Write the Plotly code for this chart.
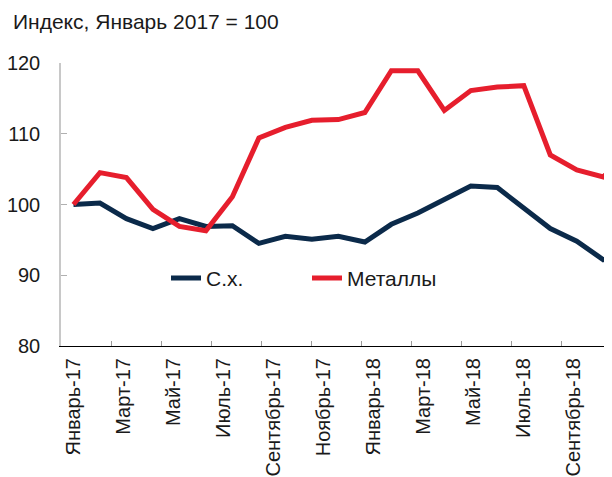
import plotly.graph_objects as go

title_text = "Индекс, Январь 2017 = 100"

data_months = ["Январь-17", "Февраль-17", "Март-17", "Апрель-17", "Май-17", "Июнь-17",
               "Июль-17", "Август-17", "Сентябрь-17", "Октябрь-17", "Ноябрь-17", "Декабрь-17",
               "Январь-18", "Февраль-18", "Март-18", "Апрель-18", "Май-18", "Июнь-18",
               "Июль-18", "Август-18", "Сентябрь-18", "Октябрь-18"]

agri = [100.0, 100.2, 98.0, 96.6, 98.0, 96.9, 97.0, 94.5, 95.5, 95.1, 95.5, 94.7,
        97.2, 98.8, 100.7, 102.6, 102.4, 99.5, 96.6, 94.8, 92.2, 93.3]

metals = [100.0, 104.5, 103.8, 99.3, 96.9, 96.3, 101.1, 109.4, 110.9, 111.9, 112.0, 113.0,
          118.9, 118.9, 113.3, 116.1, 116.6, 116.8, 107.0, 104.9, 103.9, 107.5]

axis_labels = ["Январь-17", "Март-17", "Май-17", "Июль-17", "Сентябрь-17", "Ноябрь-17",
               "Январь-18", "Март-18", "Май-18", "Июль-18", "Сентябрь-18"]

y_ticks = [80, 90, 100, 110, 120]

series_names = ["С.х.", "Металлы"]
colors = ["#0B2A4A", "#E61E2D"]

FONT = "Liberation Sans, Arial, sans-serif"
idx = list(range(len(data_months)))

fig = go.Figure()
fig.add_trace(go.Scatter(x=idx, y=agri, mode="lines", name=series_names[0],
                         line=dict(color=colors[0], width=5), text=data_months,
                         hovertemplate="%{text}: %{y}<extra></extra>"))
fig.add_trace(go.Scatter(x=idx, y=metals, mode="lines", name=series_names[1],
                         line=dict(color=colors[1], width=5), text=data_months,
                         hovertemplate="%{text}: %{y}<extra></extra>"))
# helper trace to bind the label axis
fig.add_trace(go.Scatter(x=[], y=[], xaxis="x2", showlegend=False, hoverinfo="skip"))

label_pos = [-0.5 + 2 * k for k in range(len(axis_labels))]

fig.update_layout(
    width=612, height=477,
    margin=dict(l=53, r=8, t=55, b=139, autoexpand=False),
    paper_bgcolor="white", plot_bgcolor="white",
    font=dict(family=FONT, size=20, color="#1a1a1a"),
    title=dict(text=title_text, x=5 / 612, xref="container", xanchor="left",
               y=1 - 14 / 477, yref="container", yanchor="middle",
               font=dict(family=FONT, size=21, color="#1a1a1a")),
    showlegend=True,
    legend=dict(orientation="h", x=105 / 551, xanchor="left",
                y=(345.7 - 278) / 283, yanchor="middle",
                bgcolor="rgba(0,0,0,0)", entrywidth=96,
                font=dict(family=FONT, size=21, color="#1a1a1a")),
    xaxis=dict(range=[-0.47, 20.33], showgrid=False, zeroline=False, automargin=False,
               showticklabels=False, ticks="", showline=True,
               linecolor="#000000", linewidth=1),
    xaxis2=dict(overlaying="x", anchor="y", side="bottom", range=[-0.52, 21.5],
                showgrid=False, zeroline=False, showline=False, automargin=False,
                tickmode="array", tickvals=label_pos, ticktext=axis_labels,
                ticks="inside", ticklen=5, tickcolor="#9a9a9a", tickwidth=1,
                tickangle=-90, ticklabelshift=12, ticklabelstandoff=7,
                tickfont=dict(family=FONT, size=20, color="#1a1a1a")),
    yaxis=dict(range=[80, 120], tickmode="array", tickvals=y_ticks, automargin=False,
               showgrid=False, zeroline=False, showline=True,
               linecolor="#c8c8c8", linewidth=1.5,
               ticks="inside", ticklen=6, tickcolor="#b0b0b0",
               ticklabelstandoff=15,
               tickfont=dict(family=FONT, size=20, color="#1a1a1a")),
)

fig.write_html("out.html")
